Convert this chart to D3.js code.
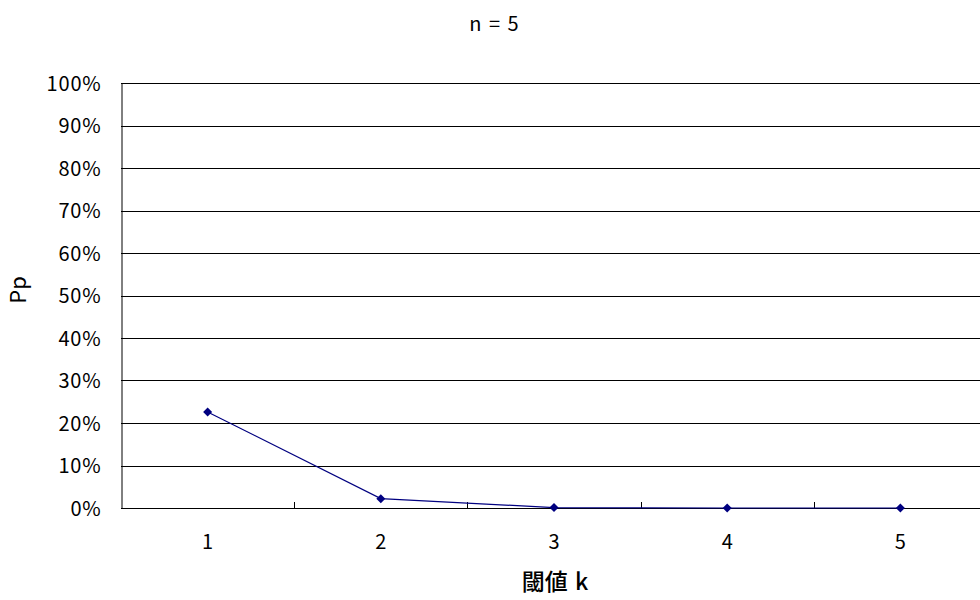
<!DOCTYPE html>
<html>
<head>
<meta charset="utf-8">
<script src="https://cdn.jsdelivr.net/npm/d3@7"></script>
<style>
  html, body { margin: 0; padding: 0; background: #fff; }
  svg { display: block; }
  text { font-family: "Noto Sans CJK JP", "Liberation Sans", sans-serif; fill: #000; }
</style>
</head>
<body>
<svg id="chart" width="980" height="600"></svg>
<script>
// Threshold k and probability Pp for n = 5
const categories = ["1", "2", "3", "4", "5"];
const values = [0.226, 0.022, 0.001, 0.0, 0.0];
const yTicks = [0, 0.1, 0.2, 0.3, 0.4, 0.5, 0.6, 0.7, 0.8, 0.9, 1.0];

const svg = d3.select("#chart");
const margin = { left: 121, top: 83, right: 987, bottom: 508 };

const x = d3.scaleBand().domain(categories).range([margin.left, margin.right]).padding(0);
const y = d3.scaleLinear().domain([0, 1]).range([margin.bottom, margin.top]);

// Horizontal gridlines
svg.append("g")
  .selectAll("line")
  .data(yTicks)
  .join("line")
  .attr("x1", margin.left).attr("x2", margin.right)
  .attr("y1", d => Math.round(y(d)) + 0.5).attr("y2", d => Math.round(y(d)) + 0.5)
  .attr("stroke", "#000").attr("stroke-width", 1);

// Y axis labels
const yAxis = d3.axisLeft(y).tickValues(yTicks).tickFormat(d3.format(".0%")).tickSize(0).tickPadding(20);
const gy = svg.append("g").attr("transform", `translate(${margin.left + 0.5},0)`).call(yAxis);
gy.attr("font-family", null).attr("font-size", null);
gy.select(".domain").attr("stroke", "#000");
gy.selectAll("text").attr("font-size", 20).attr("letter-spacing", 0.8).attr("dy", "0.36em");

// X axis with inward ticks at category boundaries
const xAxis = d3.axisBottom(x).tickSize(0).tickPadding(26);
const gx = svg.append("g").attr("transform", `translate(0,${Math.round(y(0)) + 0.5})`).call(xAxis);
gx.attr("font-family", null).attr("font-size", null);
gx.select(".domain").remove();
gx.selectAll("text").attr("font-size", 20);

const boundaries = categories.map(c => x(c)).concat([x(categories[categories.length - 1]) + x.bandwidth()]);
svg.append("g")
  .selectAll("line")
  .data(boundaries.slice(1))
  .join("line")
  .attr("x1", d => Math.round(d) + 0.5).attr("x2", d => Math.round(d) + 0.5)
  .attr("y1", Math.round(y(0))).attr("y2", Math.round(y(0)) - 6)
  .attr("stroke", "#000");

// Series line
const cx = d => x(d) + x.bandwidth() / 2;
const line = d3.line().x((d, i) => cx(categories[i])).y(d => y(d));
svg.append("path")
  .datum(values)
  .attr("d", line)
  .attr("fill", "none")
  .attr("stroke", "#000080")
  .attr("stroke-width", 1.2);

// Diamond markers
svg.append("g")
  .selectAll("path")
  .data(values)
  .join("path")
  .attr("transform", (d, i) => `translate(${cx(categories[i])},${y(d)})`)
  .attr("d", "M0,-4.5L4.5,0L0,4.5L-4.5,0Z")
  .attr("fill", "#000080");

// Titles
svg.append("text")
  .attr("x", 494).attr("y", 31)
  .attr("text-anchor", "middle")
  .attr("font-size", 20)
  .attr("word-spacing", 3)
  .text("n = 5");

svg.append("text")
  .attr("transform", "translate(26,290) rotate(-90)")
  .attr("text-anchor", "middle")
  .attr("font-size", 22)
  .text("Pp");

svg.append("text")
  .attr("x", 555).attr("y", 590)
  .attr("text-anchor", "middle")
  .attr("font-size", 23)
  .attr("font-weight", 500)
  .attr("word-spacing", 2)
  .text("閾値 k");
</script>
</body>
</html>
